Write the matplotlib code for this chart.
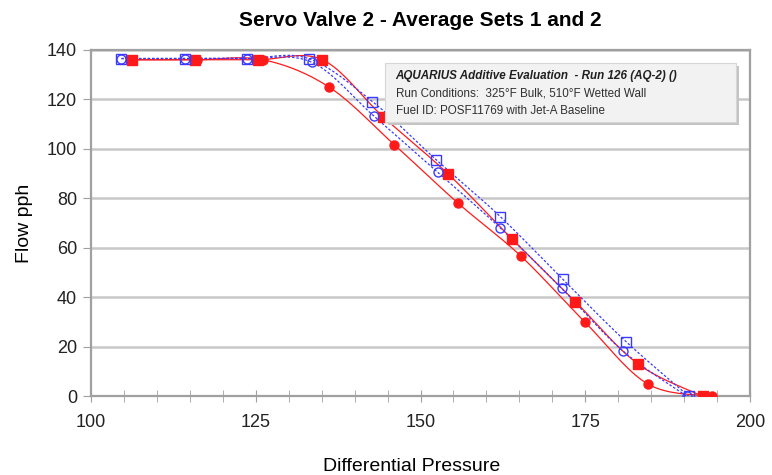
"""
Servo Valve 2 - average of sets 1 and 2, flow vs differential pressure.
Four series (two runs x two sets), Excel-style smoothed lines.
"""

import matplotlib
matplotlib.use("Agg")
import matplotlib.pyplot as plt
import matplotlib.ticker as ticker
from matplotlib.patches import Rectangle
import numpy as np

plt.rcParams["font.family"] = ["Liberation Sans", "DejaVu Sans"]

# ── Data ──────────────────────────────────────────────────────────────────────
bs_x = [104.6, 114.2, 123.6, 133.0, 142.7, 152.4, 162.1, 171.6, 181.2, 190.7]
bs_y = [136.5, 136.5, 136.5, 136.5, 119.1, 95.5, 72.6, 47.2, 22.0, 0.0]

bc_x = [104.6, 114.2, 123.6, 133.5, 142.9, 152.6, 162.1, 171.4, 180.7, 190.4]
bc_y = [136.5, 136.5, 136.5, 135.0, 113.3, 90.5, 68.0, 43.6, 18.3, 0.0]

rs_x = [106.2, 115.8, 125.4, 135.1, 144.3, 154.2, 163.9, 173.5, 183.0, 192.8]
rs_y = [136.0, 136.0, 136.0, 136.0, 113.0, 89.8, 63.5, 38.2, 13.0, 0.0]

rc_x = [106.2, 116.0, 126.1, 136.1, 146.0, 155.7, 165.2, 175.0, 184.5, 194.2]
rc_y = [136.0, 136.0, 136.0, 125.0, 101.7, 78.0, 56.7, 29.8, 4.9, 0.0]

TITLE = "Servo Valve 2 - Average Sets 1 and 2"
INFO_1 = "AQUARIUS Additive Evaluation  - Run 126 (AQ-2) ()"
INFO_2 = "Run Conditions:  325\u00b0F Bulk, 510\u00b0F Wetted Wall"
INFO_3 = "Fuel ID: POSF11769 with Jet-A Baseline"

BLUE = "#3a3aff"
RED = "#ff1a1a"
GRID = "#c8c8c8"
FRAME = "#a0a0a0"


def smooth(xs, ys, n=20):
    """Catmull-Rom curve through the points (Excel 'smoothed line' look)."""
    p = np.column_stack([xs, ys]).astype(float)
    p = np.vstack([p[0], p, p[-1]])
    out = []
    t = np.linspace(0, 1, n, endpoint=False)[:, None]
    for i in range(1, len(p) - 2):
        p0, p1, p2, p3 = p[i - 1], p[i], p[i + 1], p[i + 2]
        seg = 0.5 * ((2 * p1) + (-p0 + p2) * t
                     + (2 * p0 - 5 * p1 + 4 * p2 - p3) * t ** 2
                     + (-p0 + 3 * p1 - 3 * p2 + p3) * t ** 3)
        out.append(seg)
    out.append(p[-2][None, :])
    c = np.vstack(out)
    return c[:, 0], c[:, 1]


fig = plt.figure(figsize=(7.72, 4.75), dpi=100, facecolor="white")
ax = fig.add_axes([0.118, 0.166, 0.8535, 0.729])

# lines
for xs, ys, col, ls in [(rc_x, rc_y, RED, "-"), (rs_x, rs_y, RED, "-"),
                        (bc_x, bc_y, BLUE, (0, (2, 1.5))),
                        (bs_x, bs_y, BLUE, (0, (2, 1.5)))]:
    sx, sy = smooth(xs, ys)
    ax.plot(sx, sy, color=col, linestyle=ls, linewidth=0.9, zorder=3)

# markers
ax.plot(rc_x, rc_y, "o", color=RED, markersize=6.5, zorder=4)
ax.plot(rs_x, rs_y, "s", color=RED, markersize=7, zorder=4)
ax.plot(bc_x, bc_y, "o", mfc="none", mec=BLUE, mew=1.0, markersize=6.5, zorder=5)
ax.plot(bs_x, bs_y, "s", mfc="none", mec=BLUE, mew=1.0, markersize=7, zorder=5)

# axes styling
ax.set_xlim(100, 200)
ax.set_ylim(0, 140)
ax.xaxis.set_major_locator(ticker.MultipleLocator(25))
ax.xaxis.set_minor_locator(ticker.MultipleLocator(5))
ax.yaxis.set_major_locator(ticker.MultipleLocator(20))
ax.tick_params(axis="x", which="both", direction="inout", color=FRAME,
               length=8, labelsize=13, labelcolor="#222222")
ax.tick_params(axis="x", which="major", pad=9)
ax.tick_params(axis="y", which="major", direction="out", color=FRAME,
               length=6, pad=4, labelsize=13, labelcolor="#222222")
ax.grid(axis="y", color=GRID, linewidth=1.8, zorder=0)
ax.set_axisbelow(True)
for sp in ax.spines.values():
    sp.set_color(FRAME)
    sp.set_linewidth(1.6)

ax.set_title(TITLE, fontsize=15, fontweight="bold", pad=17)
ax.set_xlabel("Differential Pressure", fontsize=14, labelpad=18)
ax.xaxis.set_label_coords(0.486, -0.178)
ax.set_ylabel("Flow pph", fontsize=14, labelpad=10)

# info box with shadow
shadow = Rectangle((0.451, 0.782), 0.532, 0.172, transform=ax.transAxes,
                   facecolor="#c4c4c4", edgecolor="none", zorder=6)
box = Rectangle((0.446, 0.792), 0.532, 0.170, transform=ax.transAxes,
                facecolor="#f2f2f2", edgecolor="#d6d6d6", linewidth=0.8,
                zorder=7)
ax.add_patch(shadow)
ax.add_patch(box)
ax.text(0.462, 0.925, INFO_1, transform=ax.transAxes, fontsize=8.4,
        fontweight="bold", fontstyle="italic", va="center", zorder=8,
        color="#202020")
ax.text(0.462, 0.873, INFO_2, transform=ax.transAxes, fontsize=8.4,
        va="center", zorder=8, color="#303030")
ax.text(0.462, 0.824, INFO_3, transform=ax.transAxes, fontsize=8.4,
        va="center", zorder=8, color="#303030")

fig.savefig("out.png", dpi=100, facecolor="white")
